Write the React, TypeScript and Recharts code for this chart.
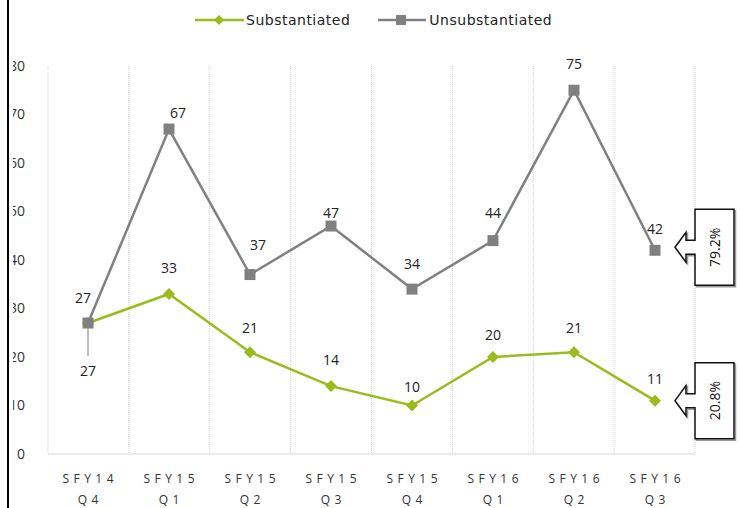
import { LineChart, Line, XAxis, YAxis, CartesianGrid, Legend, LabelList } from 'recharts'

const categories = ['SFY14 Q4', 'SFY15 Q1', 'SFY15 Q2', 'SFY15 Q3', 'SFY15 Q4', 'SFY16 Q1', 'SFY16 Q2', 'SFY16 Q3']
const substantiated = [27, 33, 21, 14, 10, 20, 21, 11]
const unsubstantiated = [27, 67, 37, 47, 34, 44, 75, 42]
const yTicks = [0, 10, 20, 30, 40, 50, 60, 70, 80]

const GREEN = '#9BBB1C'
const GRAY = '#808080'
const NUM_FONT = '"Open Sans", "Liberation Sans", sans-serif'

// label nudges, Excel placed these by hand-ish
const subLabelDy = [47, -26, -25, -27, -19, -23, -25, -22]
const unsubLabelDy = [-26, -17, -30, -14, -26, -28, -27, -22]
const unsubLabelDx = [-5, 9, 8, 0, 0, 0, 0, 0]

const data = categories.map((cat, i) => ({
  cat,
  sub: substantiated[i],
  unsub: unsubstantiated[i],
}))

const last = categories.length - 1
const lastTotal = substantiated[last] + unsubstantiated[last]
const pct = (v: number) => ((v / lastTotal) * 100).toFixed(1) + '%'

function Diamond({ cx, cy }: any) {
  if (cx == null || cy == null) return null
  return <path d={`M${cx},${cy - 6} L${cx + 6},${cy} L${cx},${cy + 6} L${cx - 6},${cy} Z`} fill={GREEN} />
}

function Square({ cx, cy }: any) {
  if (cx == null || cy == null) return null
  return <rect x={cx - 5.5} y={cy - 5.5} width={11} height={11} fill={GRAY} />
}

function Callout({ x, y, text }: { x: number; y: number; text: string }) {
  const t = x + 20
  const hb = x + 31
  const bl = x + 40
  const br = x + 79
  const d = `M${t},${y} L${hb},${y - 15} L${hb},${y - 7} L${bl},${y - 7} L${bl},${y - 38} L${br},${y - 38} L${br},${y + 38} L${bl},${y + 38} L${bl},${y + 7} L${hb},${y + 7} L${hb},${y + 15} Z`
  const cx = (bl + br) / 2
  return (
    <g>
      <path d={d} transform="translate(1.5,1.5)" fill="none" stroke="#9a9a9a" strokeWidth={1.5} />
      <path d={d} fill="#fff" stroke="#111" strokeWidth={1.5} />
      <text
        x={cx}
        y={y}
        transform={`rotate(-90 ${cx} ${y})`}
        textAnchor="middle"
        dominantBaseline="central"
        fontSize={14}
        fontFamily={NUM_FONT}
        fill="#111"
      >
        {text}
      </text>
    </g>
  )
}

function SubLabel(props: any) {
  const { x, y, value, index } = props
  const dy = subLabelDy[index]
  return (
    <g>
      {dy > 0 && <line x1={x} y1={y + 6} x2={x} y2={y + dy - 14} stroke={GRAY} strokeWidth={1} />}
      <text x={x} y={y + dy} textAnchor="middle" dominantBaseline="central" fontSize={14} fontFamily={NUM_FONT} fill="#222">
        {value}
      </text>
      {index === last && <Callout x={x} y={y} text={pct(value)} />}
    </g>
  )
}

function UnsubLabel(props: any) {
  const { x, y, value, index } = props
  return (
    <g>
      <text
        x={x + unsubLabelDx[index]}
        y={y + unsubLabelDy[index]}
        textAnchor="middle"
        dominantBaseline="central"
        fontSize={14}
        fontFamily={NUM_FONT}
        fill="#222"
      >
        {value}
      </text>
      {index === last && <Callout x={x} y={y - 3} text={pct(value)} />}
    </g>
  )
}

function XTick({ x, y, payload }: any) {
  const [a, b] = String(payload.value).split(' ')
  const sp = 4.5
  return (
    <text textAnchor="middle" fontSize={12} fontFamily={NUM_FONT} fill="#333" letterSpacing={sp}>
      <tspan x={x + sp / 2} y={y + 29}>{a}</tspan>
      <tspan x={x + sp / 2} y={y + 50}>{b}</tspan>
    </text>
  )
}

function LegendBox() {
  const txt = { fontFamily: '"DejaVu Sans", sans-serif', fontSize: 14, color: '#222', letterSpacing: 0.5 }
  return (
    <div style={{ height: 30, display: 'flex', alignItems: 'center' }}>
      <svg width={49} height={14}>
        <line x1={0} y1={7} x2={49} y2={7} stroke={GREEN} strokeWidth={2.5} />
        <path d="M24,2 L29,7 L24,12 L19,7 Z" fill={GREEN} />
      </svg>
      <span style={{ ...txt, marginLeft: 2 }}>Substantiated</span>
      <svg width={48} height={14} style={{ marginLeft: 28 }}>
        <line x1={0} y1={7} x2={48} y2={7} stroke={GRAY} strokeWidth={2.5} />
        <rect x={18} y={2} width={10} height={10} fill={GRAY} />
      </svg>
      <span style={{ ...txt, marginLeft: 3 }}>Unsubstantiated</span>
    </div>
  )
}

export default function App() {
  const n = categories.length
  const clip = 13
  return (
    <div style={{ position: 'fixed', left: 0, top: 0, width: 741, height: 508, background: '#fff', overflow: 'hidden' }}>
      <div style={{ position: 'absolute', left: 7, top: 0, width: 2, height: 508, background: '#000' }} />
      <div style={{ position: 'absolute', left: clip, top: 0, width: 741 - clip, height: 508, overflow: 'hidden' }}>
        <div style={{ position: 'absolute', left: -clip, top: 0 }}>
          <LineChart width={741} height={508} data={data} margin={{ top: 36, right: 46, left: 0, bottom: 0 }}>
            <CartesianGrid
              horizontal={false}
              stroke="#CFCFCF"
              strokeDasharray="1 1"
              verticalCoordinatesGenerator={({ offset }: any) =>
                Array.from({ length: n + 1 }, (_, i) => offset.left + (i * offset.width) / n)
              }
            />
            <XAxis
              dataKey="cat"
              height={54}
              padding={{ left: 40, right: 40 }}
              axisLine={{ stroke: '#D4D4D4' }}
              tickLine={false}
              tickSize={0}
              tickMargin={0}
              interval={0}
              tick={<XTick />}
            />
            <YAxis
              width={48}
              domain={[0, 80]}
              ticks={yTicks}
              axisLine={false}
              tickLine={false}
              tickSize={0}
              tickMargin={23}
              tick={{ fontSize: 14, fill: '#333', fontFamily: NUM_FONT }}
            />
            <Legend verticalAlign="top" content={<LegendBox />} wrapperStyle={{ top: 5, left: 195, width: 420 }} />
            <Line
              dataKey="sub"
              name="Substantiated"
              stroke={GREEN}
              strokeWidth={2.5}
              dot={<Diamond />}
              activeDot={false}
              isAnimationActive={false}
            >
              <LabelList dataKey="sub" content={<SubLabel />} />
            </Line>
            <Line
              dataKey="unsub"
              name="Unsubstantiated"
              stroke={GRAY}
              strokeWidth={2.5}
              dot={<Square />}
              activeDot={false}
              isAnimationActive={false}
            >
              <LabelList dataKey="unsub" content={<UnsubLabel />} />
            </Line>
          </LineChart>
        </div>
      </div>
    </div>
  )
}
